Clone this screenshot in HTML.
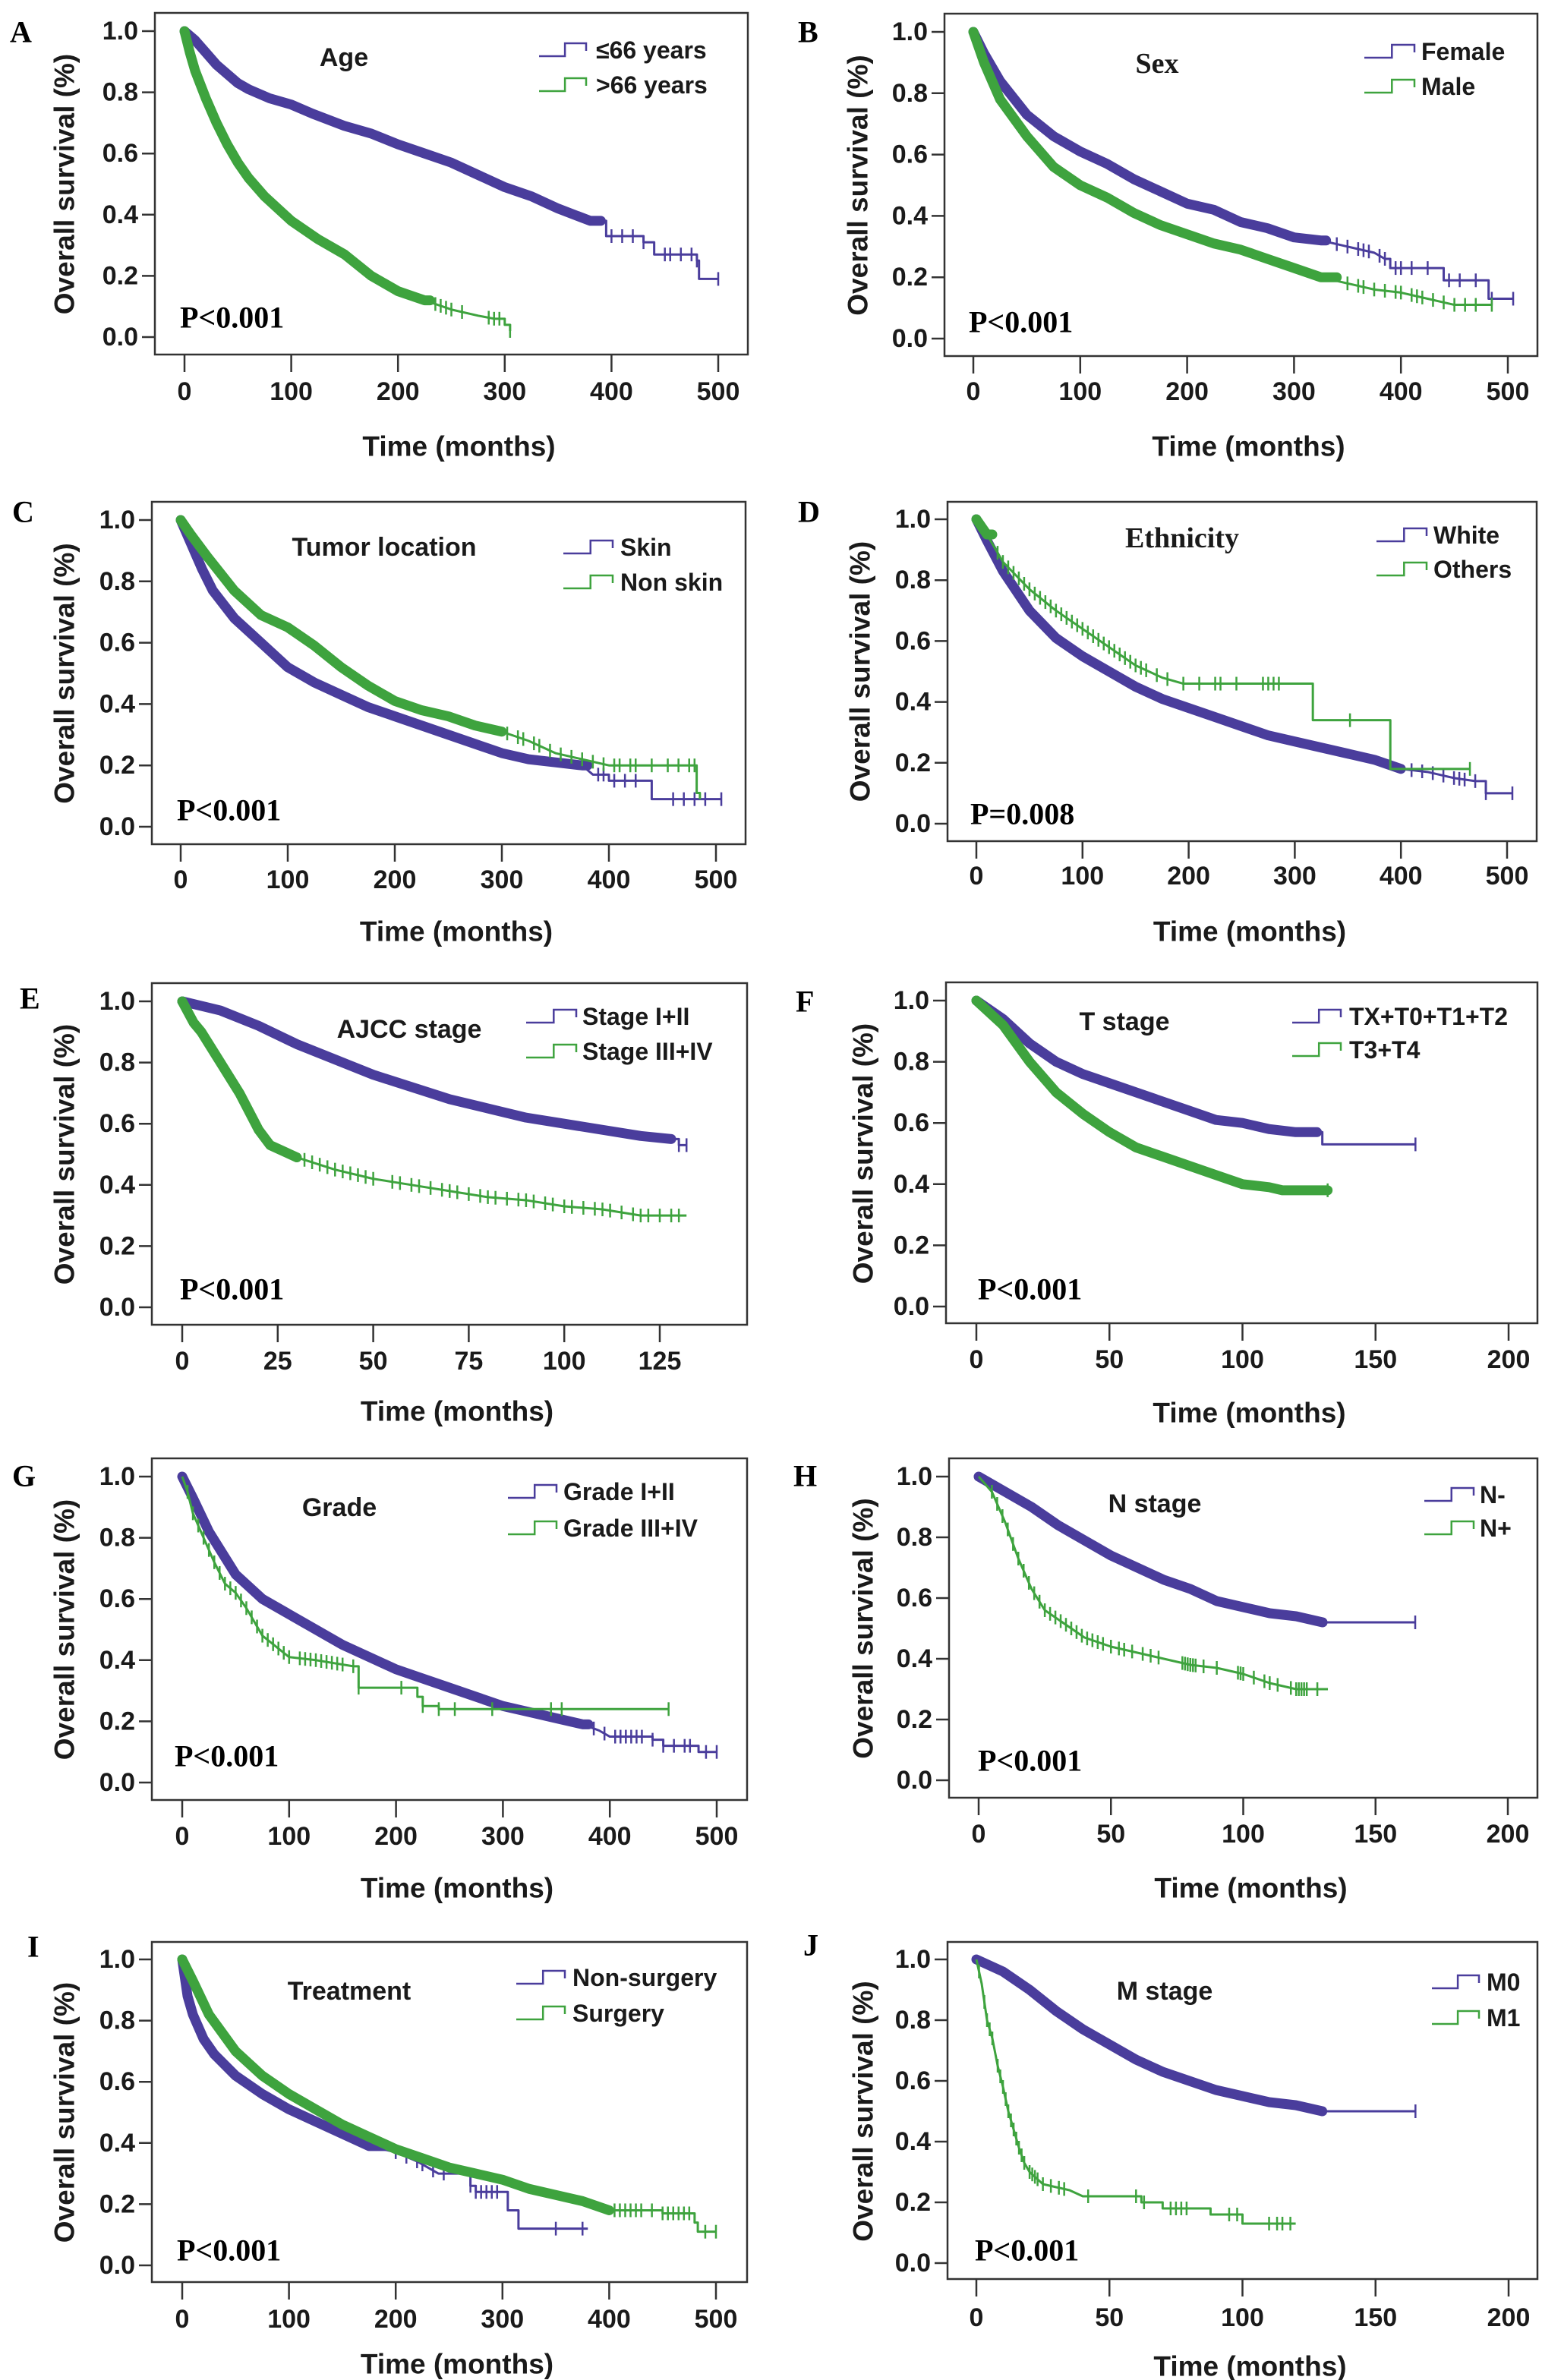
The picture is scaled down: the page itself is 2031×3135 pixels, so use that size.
<!DOCTYPE html>
<html><head><meta charset="utf-8"><style>
html,body{margin:0;padding:0;background:#fff;}
svg{display:block;}
.tk{font-family:"Liberation Sans",sans-serif;font-weight:bold;font-size:34px;fill:#1a1a1a;}
.ax{font-family:"Liberation Sans",sans-serif;font-weight:bold;font-size:37px;fill:#1a1a1a;}
.lg{font-family:"Liberation Sans",sans-serif;font-weight:bold;font-size:32px;fill:#1a1a1a;}
.tt{font-family:"Liberation Sans",sans-serif;font-weight:bold;font-size:34px;fill:#1a1a1a;}
.ts{font-family:"Liberation Serif",serif;font-weight:bold;font-size:38px;fill:#1a1a1a;}
.pv{font-family:"Liberation Serif",serif;font-weight:bold;font-size:40px;fill:#000;}
.lt{font-family:"Liberation Serif",serif;font-weight:bold;font-size:40px;fill:#000;}
</style></head><body>
<svg id="fig" width="2031" height="3135" viewBox="0 0 2031 3135" xmlns="http://www.w3.org/2000/svg"></svg>
<script>
// ---- data (months, survival proportion) ----
const A_t1=[0,10,20,30,40,50,60,80,100,120,150,175,200,225,250,275,300,325,350,380,395,430,440,480,482,500];
const A_s1=[1,.97,.93,.89,.86,.83,.81,.78,.76,.73,.69,.665,.63,.60,.57,.53,.49,.46,.42,.38,.33,.31,.27,.25,.19,.19];
const A_c1=[400,410,420,430,450,455,465,475,480,500];
const A_t2=[0,5,10,20,30,40,50,60,75,100,125,150,175,200,225,250,275,290,300,305];
const A_s2=[1,.93,.87,.78,.70,.63,.57,.52,.46,.38,.32,.27,.20,.15,.12,.09,.07,.06,.04,.02];
const A_c2=[235,240,245,250,260,285,290,295,305];

const B_t1=[0,10,25,50,75,100,125,150,175,200,225,250,275,300,325,350,375,385,390,430,440,480,482,505];
const B_s1=[1,.93,.84,.73,.66,.61,.57,.52,.48,.44,.42,.38,.36,.33,.32,.30,.28,.26,.23,.23,.19,.19,.13,.13];
const B_c1=[340,350,360,365,370,380,385,395,400,410,425,445,455,470,485,505];
const B_t2=[0,10,25,50,75,100,125,150,175,200,225,250,275,300,325,350,375,400,425,450,485];
const B_s2=[1,.90,.78,.66,.56,.50,.46,.41,.37,.34,.31,.29,.26,.23,.20,.18,.16,.15,.13,.11,.11];
const B_c2=[350,360,365,375,385,395,400,410,415,420,430,440,450,460,470,485];

const C_t1=[0,10,20,30,50,75,100,125,150,175,200,225,250,275,300,325,350,375,385,400,435,440,505];
const C_s1=[1,.92,.84,.77,.68,.60,.52,.47,.43,.39,.36,.33,.30,.27,.24,.22,.21,.20,.17,.15,.15,.09,.09];
const C_c1=[390,395,405,415,425,460,470,480,490,505];
const C_t2=[0,10,25,50,75,100,125,150,175,200,225,250,275,300,325,350,375,400,480,482,485];
const C_s2=[1,.95,.88,.77,.69,.65,.59,.52,.46,.41,.38,.36,.33,.31,.28,.24,.22,.20,.20,.11,.09];
const C_c2=[305,315,320,330,335,345,355,365,375,385,395,405,410,420,425,440,455,465,475,480];

const D_t1=[0,10,25,50,75,100,125,150,175,200,225,250,275,300,325,350,375,400,425,450,470,480,505];
const D_s1=[1,.93,.83,.70,.61,.55,.50,.45,.41,.38,.35,.32,.29,.27,.25,.23,.21,.18,.17,.15,.14,.10,.10];
const D_c1=[410,420,430,440,450,455,460,470,480,505];
const D_t2=[0,10,25,50,75,100,125,150,175,195,315,317,388,390,465];
const D_s2=[1,.95,.86,.77,.70,.64,.58,.52,.48,.46,.46,.34,.34,.18,.18];
const D_c2=[20,25,30,35,40,45,50,55,60,65,70,75,80,85,90,95,100,105,110,115,120,125,130,135,140,145,150,155,160,170,180,195,210,225,230,245,270,275,280,285,352,465];

const E_t1=[0,10,20,30,40,50,60,70,80,90,100,110,120,128,130,132];
const E_s1=[1,.97,.92,.86,.81,.76,.72,.68,.65,.62,.60,.58,.56,.55,.53,.53];
const E_c1=[130,132];
const E_t2=[0,3,5,10,15,20,23,30,40,50,60,70,80,90,100,110,120,132];
const E_s2=[1,.93,.90,.80,.70,.58,.53,.49,.45,.42,.40,.38,.36,.35,.33,.32,.30,.30];
const E_c2=[32,34,36,38,40,42,44,46,48,50,55,57,60,62,65,68,70,72,75,78,80,82,85,88,90,92,95,97,100,102,105,108,110,112,115,118,120,122,125,128,130];

const F_t1=[0,10,20,30,40,50,60,70,80,90,100,110,120,128,130,165];
const F_s1=[1,.94,.86,.80,.76,.73,.70,.67,.64,.61,.60,.58,.57,.57,.53,.53];
const F_c1=[165];
const F_t2=[0,10,20,30,40,50,60,70,80,90,100,110,115,132];
const F_s2=[1,.92,.80,.70,.63,.57,.52,.49,.46,.43,.40,.39,.38,.38];
const F_c2=[132];

const G_t1=[0,10,25,50,75,100,125,150,175,200,225,250,275,300,325,350,375,390,400,440,450,480,483,500];
const G_s1=[1,.93,.82,.68,.60,.55,.50,.45,.41,.37,.34,.31,.28,.25,.23,.21,.19,.17,.15,.14,.12,.12,.10,.10];
const G_c1=[385,395,405,410,415,420,425,430,440,450,460,470,475,490,500];
const G_t2=[0,5,10,20,30,40,50,60,75,100,125,160,165,220,225,240,455];
const G_s2=[1,.95,.88,.80,.72,.65,.62,.57,.48,.41,.40,.38,.31,.28,.25,.24,.24];
const G_c2=[5,10,15,20,25,30,35,40,45,50,55,60,65,70,75,80,85,90,95,100,110,115,120,125,130,135,140,145,150,160,165,205,225,240,255,290,345,355,455];

const H_t1=[0,10,20,30,40,50,60,70,80,90,100,110,120,130,165];
const H_s1=[1,.95,.90,.84,.79,.74,.70,.66,.63,.59,.57,.55,.54,.52,.52];
const H_c1=[165];
const H_t2=[0,5,10,15,20,25,30,40,50,60,70,80,90,100,110,120,132];
const H_s2=[1,.95,.85,.73,.63,.56,.53,.47,.44,.42,.40,.38,.37,.35,.32,.30,.30];
const H_c2=[5,7,9,11,13,15,17,19,21,23,25,27,29,31,33,35,37,39,41,43,45,47,50,53,55,58,62,65,68,77,78,79,80,81,82,85,90,98,99,100,104,108,110,113,118,120,121,122,123,124,128];

const I_t1=[0,5,10,20,30,50,75,100,125,150,175,200,220,240,270,275,300,305,315,380];
const I_s1=[1,.88,.82,.74,.69,.62,.56,.51,.47,.43,.39,.37,.34,.30,.26,.24,.24,.18,.12,.12];
const I_c1=[200,210,220,225,235,245,270,275,280,285,290,295,350,375];
const I_t2=[0,10,25,50,75,100,125,150,175,200,225,250,275,300,325,350,375,400,450,480,483,500];
const I_s2=[1,.93,.82,.70,.62,.56,.51,.46,.42,.38,.35,.32,.30,.28,.25,.23,.21,.18,.17,.14,.11,.11];
const I_c2=[405,410,415,420,425,430,440,450,455,460,465,470,475,490,500];

const J_t1=[0,10,20,30,40,50,60,70,80,90,100,110,120,130,165];
const J_s1=[1,.96,.90,.83,.77,.72,.67,.63,.60,.57,.55,.53,.52,.50,.50];
const J_c1=[165];
const J_t2=[0,2,4,6,8,10,12,14,16,18,20,25,30,35,40,60,62,70,86,88,98,100,120];
const J_s2=[1,.92,.80,.74,.65,.58,.50,.44,.38,.33,.30,.26,.25,.24,.22,.22,.20,.18,.18,.16,.16,.13,.13];
const J_c2=[1,3,4,5,6,8,9,10,11,12,13,14,15,16,17,18,20,21,22,23,25,28,31,33,42,60,63,73,75,77,79,95,98,110,113,115,118];

const yTickVals=[0,0.2,0.4,0.6,0.8,1.0];
const yTickLabels=["0.0","0.2","0.4","0.6","0.8","1.0"];
const xTicks500=[0,100,200,300,400,500];
const xTicks200=[0,50,100,150,200];
const xTicks125=[0,25,50,75,100,125];

const BLUE="#4a3d9c", GREEN="#3ea33e", NS="http://www.w3.org/2000/svg";
const svg=document.getElementById('fig');
function mk(tag,attrs,parent,text){const e=document.createElementNS(NS,tag);for(const k in attrs)e.setAttribute(k,attrs[k]);if(text!==undefined)e.textContent=text;(parent||svg).appendChild(e);return e;}
function stepAt(ts,ss,t){let v=ss[0];for(let i=0;i<ts.length;i++){if(ts[i]<=t)v=ss[i];}return v;}

function panel(c){
  const g=mk('g',{});
  
  
  const X=t=>c.x0+(c.xEnd-c.x0)*t/c.xmax;
  const Y=v=>c.y0+(c.y1-c.y0)*v;
  const fr=mk('rect',{x:c.bx0,y:c.by0,width:c.bx1-c.bx0,height:c.by1-c.by0,fill:'none',stroke:'#333',"stroke-width":2.5},g);
  
  
  yTickVals.forEach((v,i)=>{
    mk('line',{x1:c.bx0-17,x2:c.bx0,y1:Y(v),y2:Y(v),stroke:'#333',"stroke-width":2.5},g);
    const t=mk('text',{x:c.bx0-22,y:Y(v),"text-anchor":"end","dominant-baseline":"central",class:'tk'},g,yTickLabels[i]);
    
    
  });
  c.ticks.forEach(v=>{
    mk('line',{x1:X(v),x2:X(v),y1:c.by1,y2:c.by1+23,stroke:'#333',"stroke-width":2.5},g);
    const t=mk('text',{x:X(v),y:c.tickY,"text-anchor":"middle","dominant-baseline":"central",class:'tk'},g,String(v));
    
    
  });
  const xt=mk('text',{x:(c.bx0+c.bx1)/2+10,y:c.axY,"text-anchor":"middle","dominant-baseline":"central",class:'ax'},g,'Time (months)');
  
  
  const yc=(c.y0+c.y1)/2;
  const yt=mk('text',{x:c.yTitleX,y:yc,"text-anchor":"middle","dominant-baseline":"central",class:'ax',transform:`rotate(-90 ${c.yTitleX} ${yc})`},g,'Overall survival (%)');
  
  
  const lt=mk('text',{x:c.lx,y:c.ly,"dominant-baseline":"central",class:'lt'},g,c.letter);
  
  
  const ti=mk('text',{x:c.titleX,y:c.titleY,"text-anchor":"middle","dominant-baseline":"central",class:c.serif?'ts':'tt'},g,c.title);
  
  
  const pv=mk('text',{x:c.pX,y:c.pY,"dominant-baseline":"central",class:'pv'},g,c.p);
  
  
  c.series.forEach((s,k)=>{
    const col=k===0?BLUE:GREEN;
    const sg=mk('g',{},g);
    
    
    const lin=Math.max(s.lin,s.dense);
    let d='M'+X(s.t[0])+' '+Y(s.s[0]);
    let i=1;
    for(;i<s.t.length&&s.t[i]<=lin;i++){d+=' L'+X(s.t[i])+' '+Y(s.s[i]);}
    if(lin>0){d+=' L'+X(lin)+' '+Y(stepAt(s.t,s.s,lin));}
    for(;i<s.t.length;i++){d+=' H'+X(s.t[i])+' V'+Y(s.s[i]);}
    const ln=mk('path',{d:d,fill:'none',stroke:col,"stroke-width":3,"stroke-linejoin":"round"},sg);
    
    
    if(s.dense>0){
      let pts=[];
      for(let j=0;j<s.t.length;j++){if(s.t[j]<=s.dense)pts.push(X(s.t[j])+','+Y(s.s[j]));}
      pts.push(X(s.dense)+','+Y(stepAt(s.t,s.s,s.dense)));
      const band=mk('polyline',{points:pts.join(' '),fill:'none',stroke:col,"stroke-width":13,"stroke-linejoin":"round","stroke-linecap":"round"},sg);
      
      
    }
    s.c.forEach(t=>{
      let y;
      if(t<=lin){
        let j=0;while(j<s.t.length-1&&s.t[j+1]<t)j++;
        const t0=s.t[j],t1=s.t[Math.min(j+1,s.t.length-1)];
        const v0=s.s[j],v1=s.s[Math.min(j+1,s.s.length-1)];
        y=Y(t1>t0?v0+(v1-v0)*(t-t0)/(t1-t0):v0);
      } else y=Y(stepAt(s.t,s.s,t));
      const m=mk('line',{x1:X(t),x2:X(t),y1:y-9,y2:y+9,stroke:col,"stroke-width":2.5},sg);
      
      
    });
  });
  c.leg.forEach((lab,k)=>{
    const col=k===0?BLUE:GREEN, y=c.legY[k];
    const x0=c.legX0,x1=c.legX1,xm=x0+(x1-x0)*0.55;
    const ic=mk('path',{d:`M${x0} ${y+8} H${xm} V${y-9} H${x1} V${y+1}`,fill:'none',stroke:col,"stroke-width":2.5},g);
    
    
    const tx=mk('text',{x:c.legTX,y:y,"dominant-baseline":"central",class:'lg'},g,lab);
    
    
  });
}

panel({letter:'A',lx:13,ly:42,bx0:204,bx1:985,by0:17,by1:467,y1:41,y0:444,x0:243,xEnd:946,xmax:500,ticks:xTicks500,tickY:516,axY:588,yTitleX:85,
 title:'Age',serif:false,titleX:453,titleY:76,legX0:710,legX1:772,legTX:785,legY:[66,112],leg:['≤66 years','>66 years'],pX:237,pY:418,p:'P<0.001',
 series:[{t:A_t1,s:A_s1,c:A_c1,dense:390,lin:390},{t:A_t2,s:A_s2,c:A_c2,dense:230,lin:290}]});
panel({letter:'B',lx:1051,ly:42,bx0:1244,bx1:2025,by0:18,by1:469,y1:42,y0:446,x0:1282,xEnd:1986,xmax:500,ticks:xTicks500,tickY:516,axY:588,yTitleX:1130,
 title:'Sex',serif:true,titleX:1524,titleY:84,legX0:1797,legX1:1863,legTX:1872,legY:[68,114],leg:['Female','Male'],pX:1276,pY:424,p:'P<0.001',
 series:[{t:B_t1,s:B_s1,c:B_c1,dense:330,lin:385},{t:B_t2,s:B_s2,c:B_c2,dense:340,lin:450}]});
panel({letter:'C',lx:16,ly:674,bx0:200,bx1:982,by0:661,by1:1112,y1:685,y0:1089,x0:238,xEnd:943,xmax:500,ticks:xTicks500,tickY:1159,axY:1227,yTitleX:85,
 title:'Tumor location',serif:false,titleX:506,titleY:721,legX0:742,legX1:807,legTX:817,legY:[721,767],leg:['Skin','Non skin'],pX:233,pY:1067,p:'P<0.001',
 series:[{t:C_t1,s:C_s1,c:C_c1,dense:380,lin:385},{t:C_t2,s:C_s2,c:C_c2,dense:300,lin:400}]});
panel({letter:'D',lx:1051,ly:674,bx0:1248,bx1:2024,by0:661,by1:1108,y1:684,y0:1085,x0:1286,xEnd:1985,xmax:500,ticks:xTicks500,tickY:1154,axY:1227,yTitleX:1133,
 title:'Ethnicity',serif:true,titleX:1557,titleY:709,legX0:1813,legX1:1879,legTX:1888,legY:[705,750],leg:['White','Others'],pX:1278,pY:1072,p:'P=0.008',
 series:[{t:D_t1,s:D_s1,c:D_c1,dense:400,lin:470},{t:D_t2,s:D_s2,c:D_c2,dense:15,lin:195}]});
panel({letter:'E',lx:26,ly:1315,bx0:200,bx1:984,by0:1295,by1:1745,y1:1319,y0:1722,x0:240,xEnd:869,xmax:125,ticks:xTicks125,tickY:1793,axY:1859,yTitleX:85,
 title:'AJCC stage',serif:false,titleX:539,titleY:1356,legX0:693,legX1:759,legTX:767,legY:[1339,1385],leg:['Stage I+II','Stage III+IV'],pX:237,pY:1698,p:'P<0.001',
 series:[{t:E_t1,s:E_s1,c:E_c1,dense:128,lin:128},{t:E_t2,s:E_s2,c:E_c2,dense:30,lin:132}]});
panel({letter:'F',lx:1048,ly:1319,bx0:1246,bx1:2025,by0:1294,by1:1743,y1:1318,y0:1721,x0:1286,xEnd:1987,xmax:200,ticks:xTicks200,tickY:1791,axY:1861,yTitleX:1137,
 title:'T stage',serif:false,titleX:1481,titleY:1346,legX0:1702,legX1:1766,legTX:1777,legY:[1339,1383],leg:['TX+T0+T1+T2','T3+T4'],pX:1288,pY:1698,p:'P<0.001',
 series:[{t:F_t1,s:F_s1,c:F_c1,dense:128,lin:128},{t:F_t2,s:F_s2,c:F_c2,dense:132,lin:132}]});
panel({letter:'G',lx:16,ly:1944,bx0:200,bx1:984,by0:1921,by1:2371,y1:1945,y0:2348,x0:240,xEnd:944,xmax:500,ticks:xTicks500,tickY:2419,axY:2487,yTitleX:85,
 title:'Grade',serif:false,titleX:447,titleY:1986,legX0:669,legX1:733,legTX:742,legY:[1965,2013],leg:['Grade I+II','Grade III+IV'],pX:230,pY:2313,p:'P<0.001',
 series:[{t:G_t1,s:G_s1,c:G_c1,dense:380,lin:400},{t:G_t2,s:G_s2,c:G_c2,dense:0,lin:160}]});
panel({letter:'H',lx:1045,ly:1944,bx0:1250,bx1:2025,by0:1921,by1:2368,y1:1945,y0:2345,x0:1289,xEnd:1986,xmax:200,ticks:xTicks200,tickY:2416,axY:2487,yTitleX:1137,
 title:'N stage',serif:false,titleX:1521,titleY:1981,legX0:1876,legX1:1941,legTX:1949,legY:[1969,2013],leg:['N-','N+'],pX:1288,pY:2319,p:'P<0.001',
 series:[{t:H_t1,s:H_s1,c:H_c1,dense:130,lin:130},{t:H_t2,s:H_s2,c:H_c2,dense:0,lin:132}]});
panel({letter:'I',lx:36,ly:2564,bx0:200,bx1:984,by0:2558,by1:3006,y1:2581,y0:2984,x0:240,xEnd:943,xmax:500,ticks:xTicks500,tickY:3055,axY:3114,yTitleX:85,
 title:'Treatment',serif:false,titleX:460,titleY:2623,legX0:680,legX1:744,legTX:754,legY:[2605,2652],leg:['Non-surgery','Surgery'],pX:233,pY:2964,p:'P<0.001',
 series:[{t:I_t1,s:I_s1,c:I_c1,dense:190,lin:240},{t:I_t2,s:I_s2,c:I_c2,dense:400,lin:400}]});
panel({letter:'J',lx:1058,ly:2562,bx0:1248,bx1:2025,by0:2558,by1:3002,y1:2581,y0:2981,x0:1286,xEnd:1987,xmax:200,ticks:xTicks200,tickY:3053,axY:3117,yTitleX:1137,
 title:'M stage',serif:false,titleX:1534,titleY:2623,legX0:1886,legX1:1948,legTX:1958,legY:[2611,2658],leg:['M0','M1'],pX:1284,pY:2964,p:'P<0.001',
 series:[{t:J_t1,s:J_s1,c:J_c1,dense:130,lin:130},{t:J_t2,s:J_s2,c:J_c2,dense:0,lin:40}]});
</script>
</body></html>
